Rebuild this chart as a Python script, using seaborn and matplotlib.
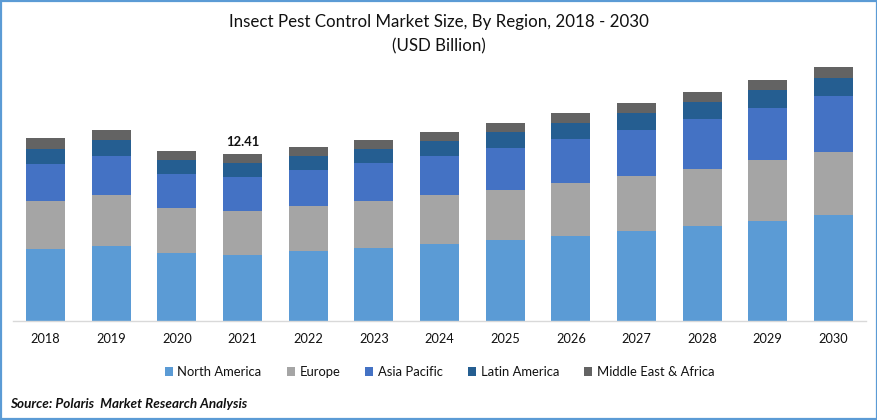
import matplotlib
matplotlib.use("Agg")
import matplotlib.pyplot as plt
from matplotlib.patches import Rectangle
import numpy as np
import pandas as pd
import seaborn as sns

years = [str(y) for y in range(2018, 2031)]
north_america = [5.35, 5.57, 5.05, 4.90, 5.20, 5.42, 5.72, 6.02, 6.32, 6.69, 7.06, 7.43, 7.88]
europe = [3.57, 3.79, 3.34, 3.27, 3.34, 3.49, 3.64, 3.71, 3.94, 4.09, 4.23, 4.53, 4.68]
asia_pacific = [2.75, 2.90, 2.53, 2.53, 2.67, 2.82, 2.90, 3.12, 3.27, 3.42, 3.71, 3.86, 4.16]
latin_america = [1.11, 1.19, 1.04, 1.04, 1.04, 1.04, 1.11, 1.19, 1.19, 1.26, 1.26, 1.34, 1.34]
mea = [0.82, 0.74, 0.67, 0.67, 0.67, 0.67, 0.67, 0.67, 0.74, 0.74, 0.74, 0.74, 0.82]
series = {
    "North America": north_america,
    "Europe": europe,
    "Asia Pacific": asia_pacific,
    "Latin America": latin_america,
    "Middle East & Africa": mea,
}
colors = ["#5B9BD5", "#A5A5A5", "#4472C4", "#255E91", "#636363"]
annotated_year = "2021"
annotated_total = 12.41

sns.set_theme(style="white")
plt.rcParams["font.family"] = ["Lato", "DejaVu Sans"]

W, H = 878, 420
fig = plt.figure(figsize=(W / 100, H / 100), dpi=100, facecolor="white")
base_px, top_px, left_px, right_px = 321, 60, 12.7, 866.3
ax = fig.add_axes([left_px / W, 1 - base_px / H, (right_px - left_px) / W, (base_px - top_px) / H])

bottom = np.zeros(len(years))
for (name, vals), c in zip(series.items(), colors):
    df = pd.DataFrame({"year": years, "value": vals})
    sns.barplot(data=df, x="year", y="value", color=c, saturation=1, width=0.594,
                bottom=bottom, label=name, ax=ax, linewidth=0, errorbar=None, legend=False)
    bottom = bottom + np.array(vals)

ax.set_xlim(-0.5, len(years) - 0.5)
ax.set_ylim(0, (base_px - top_px) / 13.46)
ax.set_xlabel("")
ax.set_ylabel("")
ax.set_yticks([])
ax.tick_params(axis="x", length=0, pad=8.5, labelsize=9.2, labelcolor="#111111")
for s in ["top", "left", "right"]:
    ax.spines[s].set_visible(False)
ax.spines["bottom"].set_color("#D9D9D9")
ax.spines["bottom"].set_linewidth(1.0)

i = years.index(annotated_year)
ax.annotate(f"{annotated_total:.2f}", (i, bottom[i]), xytext=(0, 4.3), textcoords="offset points",
            ha="center", va="bottom", fontsize=9.4, fontweight="bold", color="#111111")

handles, labels = ax.get_legend_handles_labels()
fig.legend(handles, labels, loc="center", bbox_to_anchor=(439.5 / W, 1 - 372 / H), ncol=5, frameon=False,
           fontsize=9.4, handlelength=0.62, handleheight=0.62, handletextpad=0.35, columnspacing=1.92,
           labelcolor="#111111")

fig.text(439 / W, 1 - 22 / H, "Insect Pest Control Market Size, By Region, 2018 - 2030", ha="center", va="center",
         fontsize=12.2, color="#111111")
fig.text(439 / W, 1 - 46 / H, "(USD Billion)", ha="center", va="center", fontsize=12.2, color="#111111")
fig.text(10 / W, 1 - 404 / H, "Source: Polaris  Market Research Analysis", ha="left", va="center",
         fontsize=9.75, fontweight="bold", fontstyle="italic", color="#111111")

fig.add_artist(Rectangle((1 / W, 1 / H), (W - 2) / W, (H - 2) / H, transform=fig.transFigure,
                         fill=False, edgecolor="#5B9BD5", linewidth=1.6))
fig.savefig("out.png", dpi=100, facecolor="white")
